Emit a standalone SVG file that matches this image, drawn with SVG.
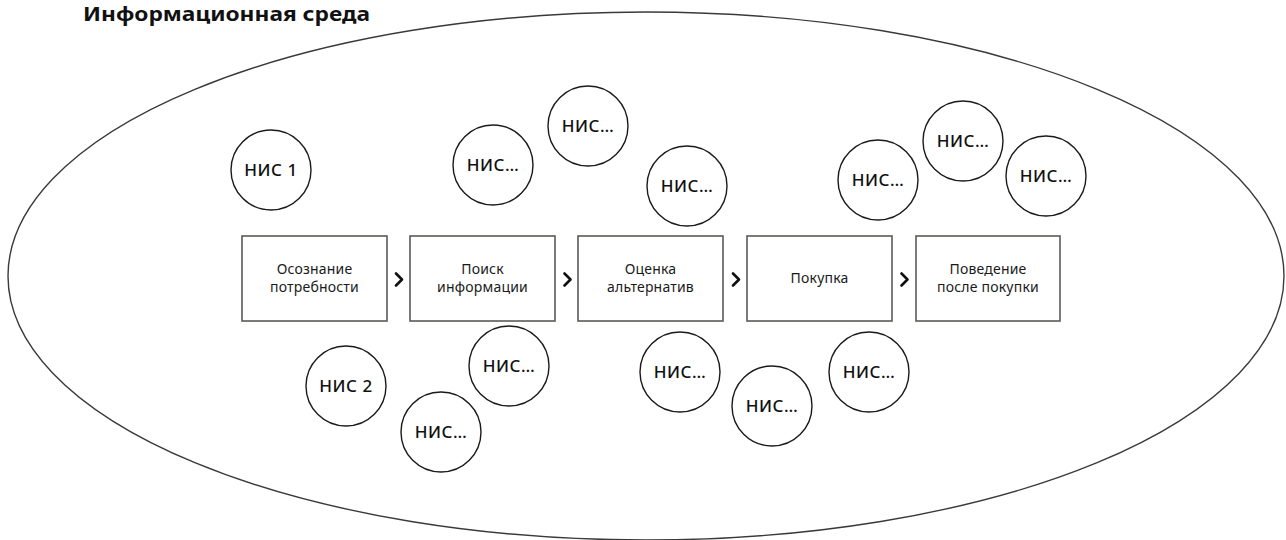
<svg xmlns="http://www.w3.org/2000/svg" width="1286" height="540" viewBox="0 0 1286 540">
  <style>
    .title { font-family: "Noto Sans", "Liberation Sans", sans-serif; font-size: 19.5px; font-weight: 700; fill: #111; }
    .env { fill: none; stroke: #3a3a3a; stroke-width: 1.4; }
    .stage rect { fill: #fff; stroke: #5a5a55; stroke-width: 1.6; }
    .stage text { font-family: "Noto Sans", "Liberation Sans", sans-serif; font-size: 14px; fill: #1a1a1a; text-anchor: middle; letter-spacing: 0.2px; }
    .nis circle { fill: #fff; stroke: #1a1a1a; stroke-width: 1.4; }
    .nis text { font-family: "Noto Sans", "Liberation Sans", sans-serif; font-size: 17px; font-weight: 500; fill: #111; text-anchor: middle; letter-spacing: 0.5px; }
    .chev { fill: none; stroke: #111; stroke-width: 2.6; stroke-linecap: round; stroke-linejoin: round; }
  </style>

  <text class="title" x="83" y="21" textLength="287" lengthAdjust="spacingAndGlyphs">Информационная среда</text>

  <!-- information environment boundary -->
  <ellipse id="environment" class="env" cx="646" cy="276" rx="638" ry="264"/>

  <!-- decision stages -->
  <g id="stage-1" class="stage">
    <rect x="242" y="236" width="145" height="85"/>
    <text x="314.5" y="274">Осознание</text>
    <text x="314.5" y="292">потребности</text>
  </g>
  <g id="stage-2" class="stage">
    <rect x="410" y="236" width="145" height="85"/>
    <text x="482.5" y="274">Поиск</text>
    <text x="482.5" y="292">информации</text>
  </g>
  <g id="stage-3" class="stage">
    <rect x="578" y="236" width="145" height="85"/>
    <text x="650.5" y="274">Оценка</text>
    <text x="650.5" y="292">альтернатив</text>
  </g>
  <g id="stage-4" class="stage">
    <rect x="747" y="236" width="145" height="85"/>
    <text x="819.5" y="283">Покупка</text>
  </g>
  <g id="stage-5" class="stage">
    <rect x="916" y="236" width="144" height="85"/>
    <text x="988" y="274">Поведение</text>
    <text x="988" y="292">после покупки</text>
  </g>

  <!-- transitions between stages -->
  <g id="connectors">
    <polyline class="chev" points="396,273.5 402,279.5 396,285.5"/>
    <polyline class="chev" points="564.5,273.5 570.5,279.5 564.5,285.5"/>
    <polyline class="chev" points="733,273.5 739,279.5 733,285.5"/>
    <polyline class="chev" points="901.5,273.5 907.5,279.5 901.5,285.5"/>
  </g>

  <!-- information sources -->
  <g id="nis-1" class="nis"><circle cx="271" cy="170" r="40"/><text x="271" y="176">НИС 1</text></g>
  <g id="nis-a" class="nis"><circle cx="493" cy="165" r="40"/><text x="493" y="171">НИС…</text></g>
  <g id="nis-b" class="nis"><circle cx="588" cy="126" r="40"/><text x="588" y="132">НИС…</text></g>
  <g id="nis-c" class="nis"><circle cx="687" cy="186" r="40"/><text x="687" y="192">НИС…</text></g>
  <g id="nis-d" class="nis"><circle cx="878" cy="180" r="40"/><text x="878" y="186">НИС…</text></g>
  <g id="nis-e" class="nis"><circle cx="963" cy="141" r="40"/><text x="963" y="147">НИС…</text></g>
  <g id="nis-f" class="nis"><circle cx="1046" cy="176" r="40"/><text x="1046" y="182">НИС…</text></g>

  <g id="nis-2" class="nis"><circle cx="346" cy="386" r="40"/><text x="346" y="392">НИС 2</text></g>
  <g id="nis-g" class="nis"><circle cx="509" cy="366" r="40"/><text x="509" y="372">НИС…</text></g>
  <g id="nis-h" class="nis"><circle cx="441" cy="432" r="40"/><text x="441" y="438">НИС…</text></g>
  <g id="nis-i" class="nis"><circle cx="680" cy="372" r="40"/><text x="680" y="378">НИС…</text></g>
  <g id="nis-j" class="nis"><circle cx="772" cy="406" r="40"/><text x="772" y="412">НИС…</text></g>
  <g id="nis-k" class="nis"><circle cx="869" cy="372" r="40"/><text x="869" y="378">НИС…</text></g>
</svg>
